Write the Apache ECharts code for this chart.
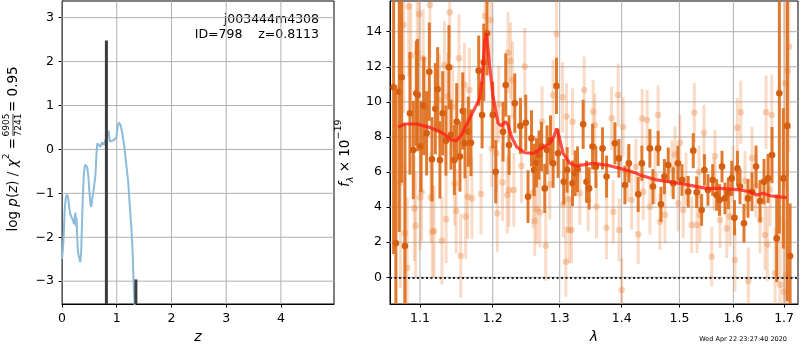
<!DOCTYPE html>
<html>
<head>
<meta charset="utf-8">
<script src="https://cdn.jsdelivr.net/npm/echarts@6.0.0/dist/echarts.min.js"></script>
<style>
  html, body { margin: 0; padding: 0; background: #fff; }
  #chart { width: 800px; height: 350px; }
</style>
</head>
<body>
<div id="chart"></div>
<script>
// left panel: log p(z)
const zGrid = [0.000, 0.015, 0.030, 0.050, 0.070, 0.090, 0.110, 0.130, 0.150, 0.175, 0.200, 0.220, 0.235, 0.245, 0.255, 0.265, 0.285, 0.300, 0.320, 0.335, 0.350, 0.365, 0.380, 0.400, 0.420, 0.440, 0.460, 0.480, 0.500, 0.520, 0.535, 0.555, 0.580, 0.610, 0.630, 0.645, 0.670, 0.700, 0.730, 0.760, 0.790, 0.820, 0.850, 0.875, 0.900, 0.930, 0.960, 0.990, 1.020, 1.040, 1.070, 1.100, 1.140, 1.180, 1.210, 1.240, 1.270, 1.290, 1.310, 1.330]
const logPz = [-2.50, -2.30, -2.00, -1.35, -1.10, -1.03, -1.08, -1.30, -1.47, -1.50, -1.62, -1.70, -1.50, -1.44, -1.75, -1.55, -2.20, -2.40, -2.42, -2.57, -2.35, -1.70, -1.10, -0.55, -0.35, -0.33, -0.40, -0.60, -0.95, -1.25, -1.31, -1.10, -0.90, -0.60, -0.10, 0.14, 0.12, 0.06, 0.16, 0.10, 0.08, 0.30, 0.42, 0.18, 0.14, 0.20, 0.22, 0.26, 0.55, 0.61, 0.55, 0.38, 0.05, -0.40, -0.75, -1.30, -1.85, -2.30, -3.10, -3.60]
const zPeaks = [0.8113, 1.35]
const peakHeights = [2.48, -2.96]
const zTicks = [0, 1, 2, 3, 4]
const logPzTicks = [-3, -2, -1, 0, 1, 2, 3]

// right panel: spectrum (wavelength in micron, flux in 1e-19)
const darkWave = [1.0659, 1.0688, 1.0731, 1.0762, 1.0804, 1.0869, 1.0913, 1.0952, 1.0969, 1.1013, 1.1049, 1.1088, 1.1124, 1.1159, 1.1204, 1.1235, 1.1266, 1.1303, 1.1347, 1.1388, 1.1416, 1.1462, 1.1494, 1.1539, 1.1577, 1.1608, 1.1655, 1.1692, 1.1800, 1.1848, 1.1872, 1.1918, 1.2000, 1.2043, 1.2149, 1.2188, 1.2236, 1.2320, 1.2404, 1.2483, 1.2517, 1.2569, 1.2608, 1.2644, 1.2683, 1.2720, 1.2770, 1.2805, 1.2858, 1.2898, 1.2950, 1.2975, 1.3064, 1.3116, 1.3201, 1.3242, 1.3280, 1.3370, 1.3424, 1.3466, 1.3521, 1.3574, 1.3683, 1.3749, 1.3887, 1.3953, 1.4054, 1.4121, 1.4279, 1.4342, 1.4480, 1.4532, 1.4624, 1.4673, 1.4734, 1.4801, 1.4890, 1.4973, 1.5046, 1.5159, 1.5251, 1.5313, 1.5404, 1.5456, 1.5521, 1.5609, 1.5684, 1.5736, 1.5784, 1.5840, 1.5903, 1.5968, 1.6021, 1.6078, 1.6127, 1.6204, 1.6282, 1.6360, 1.6439, 1.6518, 1.6597, 1.6677, 1.6757, 1.6851, 1.6904, 1.6985, 1.7066, 1.7122]
const darkFlux = [10.83, 1.94, 10.58, 11.40, 1.78, 9.35, 7.26, 10.49, 10.39, 7.45, 9.77, 8.21, 11.72, 6.73, 9.61, 10.72, 6.69, 9.35, 7.79, 11.97, 8.13, 6.69, 8.87, 6.88, 9.48, 7.64, 8.30, 7.67, 11.78, 9.25, 12.26, 13.91, 9.25, 6.02, 8.30, 10.96, 7.54, 9.92, 8.63, 8.81, 4.60, 7.92, 6.12, 6.53, 6.97, 7.45, 5.07, 7.26, 7.83, 6.50, 10.91, 7.07, 5.45, 6.12, 5.36, 5.93, 6.16, 8.72, 5.45, 5.07, 7.45, 6.30, 7.35, 5.74, 7.64, 6.78, 5.26, 6.50, 4.73, 6.50, 7.35, 5.17, 7.35, 4.16, 5.74, 6.40, 5.36, 6.50, 5.55, 4.88, 7.22, 4.85, 3.84, 6.12, 4.98, 5.55, 4.69, 4.41, 6.31, 4.50, 4.79, 5.64, 3.40, 6.21, 5.17, 3.08, 4.50, 4.88, 6.31, 4.35, 5.45, 5.64, 6.97, 2.22, 10.49, 5.64, 8.63, 1.21]
const darkErr = [9.5, 9.0, 8.0, 6.0, 7.0, 3.5, 2.8, 3.0, 3.2, 2.6, 2.8, 2.4, 2.8, 2.4, 2.6, 2.4, 2.2, 2.4, 2.0, 2.4, 2.0, 2.0, 2.2, 2.0, 2.2, 2.0, 2.0, 1.9, 2.0, 1.9, 2.2, 2.4, 1.9, 1.8, 1.7, 1.8, 1.7, 1.7, 1.6, 1.6, 1.5, 1.6, 1.5, 1.4, 1.4, 1.4, 1.4, 1.4, 1.4, 1.4, 1.6, 1.4, 1.3, 1.3, 1.3, 1.3, 1.3, 1.4, 1.2, 1.2, 1.3, 1.2, 1.2, 1.2, 1.2, 1.1, 1.1, 1.1, 1.0, 1.0, 1.1, 1.0, 1.0, 1.0, 1.0, 1.0, 0.9, 1.0, 0.9, 0.9, 1.0, 0.9, 0.9, 0.9, 0.9, 0.9, 0.9, 0.9, 0.9, 0.9, 0.9, 1.0, 1.0, 1.0, 1.0, 1.1, 1.1, 1.1, 1.2, 1.2, 1.3, 1.4, 1.6, 2.5, 8.0, 4.0, 10.0, 3.0]

const lightWave = [1.0745, 1.0788, 1.0804, 1.0833, 1.0852, 1.0882, 1.0926, 1.0943, 1.0963, 1.0989, 1.1003, 1.1022, 1.1042, 1.1069, 1.1132, 1.1145, 1.1165, 1.1188, 1.1258, 1.1293, 1.1326, 1.1350, 1.1370, 1.1398, 1.1439, 1.1466, 1.1487, 1.1525, 1.1549, 1.1600, 1.1618, 1.1646, 1.1669, 1.1706, 1.1833, 1.1890, 1.1971, 1.1986, 1.2053, 1.2065, 1.2086, 1.2140, 1.2210, 1.2222, 1.2236, 1.2257, 1.2287, 1.2306, 1.2419, 1.2468, 1.2593, 1.2618, 1.2648, 1.2694, 1.2729, 1.2785, 1.2847, 1.2898, 1.2950, 1.3044, 1.3057, 1.3096, 1.3107, 1.3127, 1.3150, 1.3185, 1.3201, 1.3317, 1.3386, 1.3450, 1.3530, 1.3558, 1.3585, 1.3749, 1.3832, 1.3859, 1.3941, 1.3958, 1.3999, 1.4025, 1.4104, 1.4167, 1.4240, 1.4279, 1.4347, 1.4365, 1.4433, 1.4480, 1.4567, 1.4624, 1.4655, 1.4743, 1.4867, 1.4920, 1.4979, 1.5010, 1.5069, 1.5118, 1.5222, 1.5269, 1.5319, 1.5355, 1.5373, 1.5447, 1.5591, 1.5634, 1.5652, 1.5746, 1.5873, 1.5935, 1.5992, 1.6031, 1.6075, 1.6141, 1.6224, 1.6288, 1.6360, 1.6439, 1.6518, 1.6617, 1.6637, 1.6663, 1.6717, 1.6751, 1.6817, 1.6918, 1.6999, 1.7020, 1.7040, 1.7070, 1.7101]
const lightFlux = [5.39, 14.38, 2.51, 0.55, 15.43, 12.62, 3.93, 2.94, 12.81, 15.00, 4.56, 4.88, 12.49, 9.73, 15.52, 4.56, 2.60, 2.64, 10.11, 2.09, 12.10, 3.31, 10.30, 15.10, 9.73, 5.36, 3.78, 12.49, 1.23, 10.96, 3.46, 4.60, 10.68, 4.50, 4.75, 14.90, 14.67, 7.35, 7.07, 3.65, 9.86, 5.42, 4.69, 12.81, 4.98, 12.33, 11.25, 4.98, 6.35, 12.01, 4.82, 3.21, 3.88, 3.71, 8.87, 1.80, 5.30, 10.39, 13.87, 10.26, 4.18, 0.89, 9.16, 4.45, 2.70, 2.70, 8.87, 4.79, 10.68, 4.41, 9.44, 8.67, 4.03, 2.83, 9.07, 3.74, 10.39, 2.70, -0.72, 8.57, 5.90, 4.41, 6.30, 2.45, 9.04, 4.88, 8.97, 4.03, 5.80, 9.25, 3.17, 3.55, 6.20, 7.00, 4.22, 7.67, 3.84, 5.60, 2.98, 9.39, 2.98, 6.00, 3.55, 8.24, 1.18, 5.30, 6.90, 3.27, 2.79, 3.46, 5.90, 0.99, 8.53, 9.41, 5.50, -0.21, 6.80, 5.20, 3.27, 2.41, 9.41, 1.88, 5.00, 9.25, 0.23, -0.44, -0.82, 11.06, 0.13, 11.76, 13.15]
const lightErr = [6.0, 5.0, 4.0, 4.0, 4.0, 3.0, 3.0, 3.0, 3.0, 3.0, 3.0, 2.8, 2.8, 2.8, 3.0, 2.6, 2.6, 2.6, 2.6, 2.5, 2.5, 2.5, 2.5, 2.6, 2.4, 2.4, 2.4, 2.5, 2.4, 2.4, 2.4, 2.4, 2.4, 2.3, 2.3, 2.5, 2.4, 2.2, 2.2, 2.2, 2.2, 2.2, 2.2, 2.3, 2.1, 2.2, 2.2, 2.1, 2.1, 2.2, 2.0, 2.0, 2.0, 2.0, 2.0, 2.0, 2.0, 2.0, 2.2, 2.0, 1.9, 2.0, 1.9, 1.9, 1.9, 1.9, 1.9, 1.8, 1.9, 1.8, 1.8, 1.8, 1.8, 1.8, 1.8, 1.8, 1.8, 1.8, 1.8, 1.7, 1.6, 1.7, 1.6, 1.7, 1.7, 1.6, 1.7, 1.6, 1.6, 1.7, 1.6, 1.6, 1.6, 1.6, 1.6, 1.6, 1.6, 1.5, 1.6, 1.7, 1.6, 1.5, 1.6, 1.6, 1.7, 1.5, 1.5, 1.6, 1.7, 1.7, 1.6, 1.8, 1.7, 1.8, 1.7, 1.9, 1.8, 1.8, 1.9, 2.0, 2.1, 2.1, 2.1, 2.3, 2.6, 4.0, 4.0, 6.0, 6.0, 6.0, 6.0]

const modelWave = [1.0714, 1.0800, 1.0953, 1.1129, 1.1307, 1.1421, 1.1490, 1.1559, 1.1674, 1.1768, 1.1815, 1.1853, 1.1886, 1.1910, 1.1947, 1.2004, 1.2077, 1.2126, 1.2184, 1.2222, 1.2272, 1.2345, 1.2469, 1.2593, 1.2720, 1.2847, 1.2909, 1.2951, 1.2991, 1.3053, 1.3159, 1.3264, 1.3531, 1.3749, 1.3970, 1.4252, 1.4308, 1.4597, 1.5010, 1.5313, 1.5497, 1.5746, 1.6128, 1.6321, 1.6453, 1.6584, 1.6718, 1.6852, 1.7055]
const modelFlux = [8.55, 8.74, 8.74, 8.55, 8.21, 7.83, 7.79, 8.11, 9.07, 9.82, 10.20, 11.44, 13.53, 13.91, 12.39, 10.30, 8.78, 8.63, 8.87, 8.68, 8.02, 7.45, 7.10, 7.07, 7.35, 7.64, 8.02, 8.49, 8.02, 7.07, 6.50, 6.35, 6.50, 6.40, 6.21, 5.93, 5.83, 5.55, 5.36, 5.17, 5.07, 5.07, 4.98, 4.88, 4.69, 4.79, 4.65, 4.60, 4.54]

const waveTicks = [1.1, 1.2, 1.3, 1.4, 1.5, 1.6, 1.7]
const fluxTicks = [0, 2, 4, 6, 8, 10, 12, 14]

const FONT = 'DejaVu Sans'
const GRID_COLOR = '#b0b0b0'

// the wavelength axis is logarithmic: plot ln(lambda) on a value axis
const lnWave = (w) => Math.log(w)
const minusFmt = (v) => (v < 0 ? '\u2212' + Math.abs(v) : String(v))

const chart = echarts.init(document.getElementById('chart'))

function errorBars(barColor, dotColor) {
  return (params, api) => {
    const cs = params.coordSys
    const x = api.value(0)
    const y = api.value(1)
    const e = api.value(2)
    const c = api.coord([x, y])
    const hi = api.coord([x, y + e])
    const lo = api.coord([x, y - e])
    const yTop = Math.max(cs.y, hi[1])
    const yBot = Math.min(cs.y + cs.height, lo[1])
    const children = []
    if (yBot > yTop) {
      children.push({
        type: 'line',
        shape: { x1: c[0], y1: yTop, x2: c[0], y2: yBot },
        style: { stroke: barColor, lineWidth: 3 },
      })
    }
    if (c[1] >= cs.y && c[1] <= cs.y + cs.height) {
      children.push({
        type: 'circle',
        shape: { cx: c[0], cy: c[1], r: 3.3 },
        style: { fill: dotColor },
      })
    }
    return { type: 'group', children }
  }
}

// grid lines at the custom tick positions, one custom series per panel
function gridLines(xIdx, yIdx, xVals, yVals) {
  const items = [...xVals.map((v) => ['x', v]), ...yVals.map((v) => ['y', v])]
  return {
    type: 'custom',
    xAxisIndex: xIdx,
    yAxisIndex: yIdx,
    silent: true,
    z: 1,
    data: items.map((it, i) => [i]),
    renderItem: (params, api) => {
      const cs = params.coordSys
      const [dir, v] = items[params.dataIndex]
      let shape
      if (dir === 'x') {
        const px = api.coord([v, yVals[0]])[0]
        shape = { x1: px, y1: cs.y, x2: px, y2: cs.y + cs.height }
      } else {
        const py = api.coord([xVals[0], v])[1]
        shape = { x1: cs.x, y1: py, x2: cs.x + cs.width, y2: py }
      }
      return { type: 'line', shape, style: { stroke: GRID_COLOR, lineWidth: 1 } }
    },
  }
}

const axisCommon = {
  type: 'value',
  axisLine: { show: true, onZero: false, lineStyle: { color: '#000', width: 1 } },
  splitLine: { show: false },
}

const tickStyle = (values) => ({
  show: true,
  customValues: values,
  length: 3.5,
  lineStyle: { color: '#000', width: 1 },
})

const labelStyle = (values, margin, formatter) => ({
  customValues: values,
  margin,
  color: '#000',
  fontSize: 12.5,
  fontFamily: FONT,
  formatter,
})

const option = {
  animation: false,
  backgroundColor: '#fff',
  grid: [
    { left: 62, top: 1, right: 466, bottom: 46, show: true, borderColor: '#000', borderWidth: 1 },
    { left: 390, top: 1, right: 2, bottom: 46, show: true, borderColor: '#000', borderWidth: 1 },
  ],
  xAxis: [
    {
      ...axisCommon,
      gridIndex: 0,
      min: 0,
      max: 4.97,
      axisTick: tickStyle(zTicks),
      axisLabel: labelStyle(zTicks, 8, minusFmt),
      name: 'z',
      nameLocation: 'middle',
      nameGap: 26,
      nameTextStyle: { fontFamily: FONT, fontSize: 14, fontStyle: 'italic', color: '#000' },
    },
    {
      ...axisCommon,
      gridIndex: 1,
      min: lnWave(1.0613),
      max: lnWave(1.7285),
      axisTick: tickStyle(waveTicks.map(lnWave)),
      axisLabel: labelStyle(waveTicks.map(lnWave), 8, (v) => Math.exp(v).toFixed(1)),
      name: 'λ',
      nameLocation: 'middle',
      nameGap: 26,
      nameTextStyle: { fontFamily: FONT, fontSize: 14, fontStyle: 'italic', color: '#000' },
    },
  ],
  yAxis: [
    {
      ...axisCommon,
      gridIndex: 0,
      min: -3.52,
      max: 3.38,
      axisTick: tickStyle(logPzTicks),
      axisLabel: labelStyle(logPzTicks, 8, minusFmt),
    },
    {
      ...axisCommon,
      gridIndex: 1,
      min: -1.52,
      max: 15.75,
      axisTick: tickStyle(fluxTicks),
      axisLabel: labelStyle(fluxTicks, 8, minusFmt),
    },
  ],
  graphic: [
    {
      type: 'text',
      x: 319,
      y: 20,
      style: { text: 'j003444m4308', font: '12.5px "DejaVu Sans"', fill: '#000', align: 'right', verticalAlign: 'middle' },
    },
    {
      type: 'text',
      x: 319,
      y: 35,
      style: { text: 'ID=798    z=0.8113', font: '12.5px "DejaVu Sans"', fill: '#000', align: 'right', verticalAlign: 'middle' },
    },
    {
      type: 'text',
      x: 787,
      y: 339,
      style: { text: 'Wed Apr 22 23:27:40 2020', font: '6.5px "DejaVu Sans"', fill: '#000', align: 'right', verticalAlign: 'middle' },
    },
    {
      // left y label: log p(z) / chi^2 = 6905/7241 = 0.95
      type: 'group',
      x: 13,
      y: 240,
      rotation: Math.PI / 2,
      children: [
        {
          type: 'text',
          x: 102,
          y: 0,
          style: {
            text: '{n|log }{i|p}{n|(}{i|z}{n|) / }{i|χ}{s|2}{n| =}',
            align: 'right',
            verticalAlign: 'middle',
            fill: '#000',
            rich: {
              n: { fontFamily: FONT, fontSize: 13.5, lineHeight: 22, verticalAlign: 'middle' },
              i: { fontFamily: FONT, fontSize: 13.5, fontStyle: 'italic', lineHeight: 22, verticalAlign: 'middle' },
              s: { fontFamily: FONT, fontSize: 9, lineHeight: 10, verticalAlign: 'top' },
            },
          },
        },
        {
          type: 'text',
          x: 115,
          y: -6,
          style: { text: '6905', font: '9px "DejaVu Sans"', fill: '#000', align: 'center', verticalAlign: 'middle' },
        },
        {
          type: 'line',
          shape: { x1: 104, y1: 0, x2: 126, y2: 0 },
          style: { stroke: '#000', lineWidth: 0.8 },
        },
        {
          type: 'text',
          x: 115,
          y: 6,
          style: { text: '7241', font: '9px "DejaVu Sans"', fill: '#000', align: 'center', verticalAlign: 'middle' },
        },
        {
          type: 'text',
          x: 128,
          y: 0,
          style: { text: '= 0.95', font: '13.5px "DejaVu Sans"', fill: '#000', align: 'left', verticalAlign: 'middle' },
        },
      ],
    },
    {
      // right y label: f_lambda x 10^-19
      type: 'group',
      x: 345,
      y: 187,
      rotation: Math.PI / 2,
      children: [
        {
          type: 'text',
          x: 0,
          y: 0,
          style: {
            text: '{i|f}{b|λ}{n| × 10}{s|\u221219}',
            align: 'left',
            verticalAlign: 'middle',
            fill: '#000',
            rich: {
              n: { fontFamily: FONT, fontSize: 13.5, lineHeight: 22, verticalAlign: 'middle' },
              i: { fontFamily: FONT, fontSize: 13.5, fontStyle: 'italic', lineHeight: 22, verticalAlign: 'middle' },
              b: { fontFamily: FONT, fontSize: 9.5, fontStyle: 'italic', lineHeight: 10, verticalAlign: 'bottom' },
              s: { fontFamily: FONT, fontSize: 9.5, lineHeight: 10, verticalAlign: 'top' },
            },
          },
        },
      ],
    },
  ],
  series: [
    gridLines(0, 0, zTicks, logPzTicks),
    gridLines(1, 1, waveTicks.map(lnWave), fluxTicks),
    {
      type: 'line',
      xAxisIndex: 0,
      yAxisIndex: 0,
      data: zGrid.map((z, i) => [z, logPz[i]]),
      showSymbol: false,
      lineStyle: { color: '#8dbbdc', width: 2 },
      z: 2,
    },
    {
      type: 'custom',
      xAxisIndex: 0,
      yAxisIndex: 0,
      data: zPeaks.map((z, i) => [z, peakHeights[i]]),
      renderItem: (params, api) => {
        const cs = params.coordSys
        const top = api.coord([api.value(0), api.value(1)])
        return {
          type: 'rect',
          shape: { x: top[0] - 1.5, y: top[1], width: 3, height: cs.y + cs.height - top[1] },
          style: { fill: '#3d3d3d' },
        }
      },
      z: 3,
    },
    {
      type: 'custom',
      xAxisIndex: 1,
      yAxisIndex: 1,
      data: lightWave.map((w, i) => [lnWave(w), lightFlux[i], lightErr[i]]),
      renderItem: errorBars('rgba(232,125,50,0.28)', 'rgba(232,125,50,0.32)'),
      z: 2,
    },
    {
      type: 'custom',
      xAxisIndex: 1,
      yAxisIndex: 1,
      data: darkWave.map((w, i) => [lnWave(w), darkFlux[i], darkErr[i]]),
      renderItem: errorBars('rgba(222,108,24,0.9)', '#d55e10'),
      z: 3,
    },
    {
      type: 'line',
      xAxisIndex: 1,
      yAxisIndex: 1,
      data: modelWave.map((w, i) => [lnWave(w), modelFlux[i]]),
      showSymbol: false,
      lineStyle: { color: 'rgba(255,30,20,0.78)', width: 3.2 },
      markLine: {
        silent: true,
        symbol: 'none',
        label: { show: false },
        lineStyle: { color: '#222', width: 2, type: [2, 2.5] },
        data: [{ yAxis: 0 }],
      },
      z: 4,
    },
  ],
}

chart.setOption(option)
</script>
</body>
</html>
